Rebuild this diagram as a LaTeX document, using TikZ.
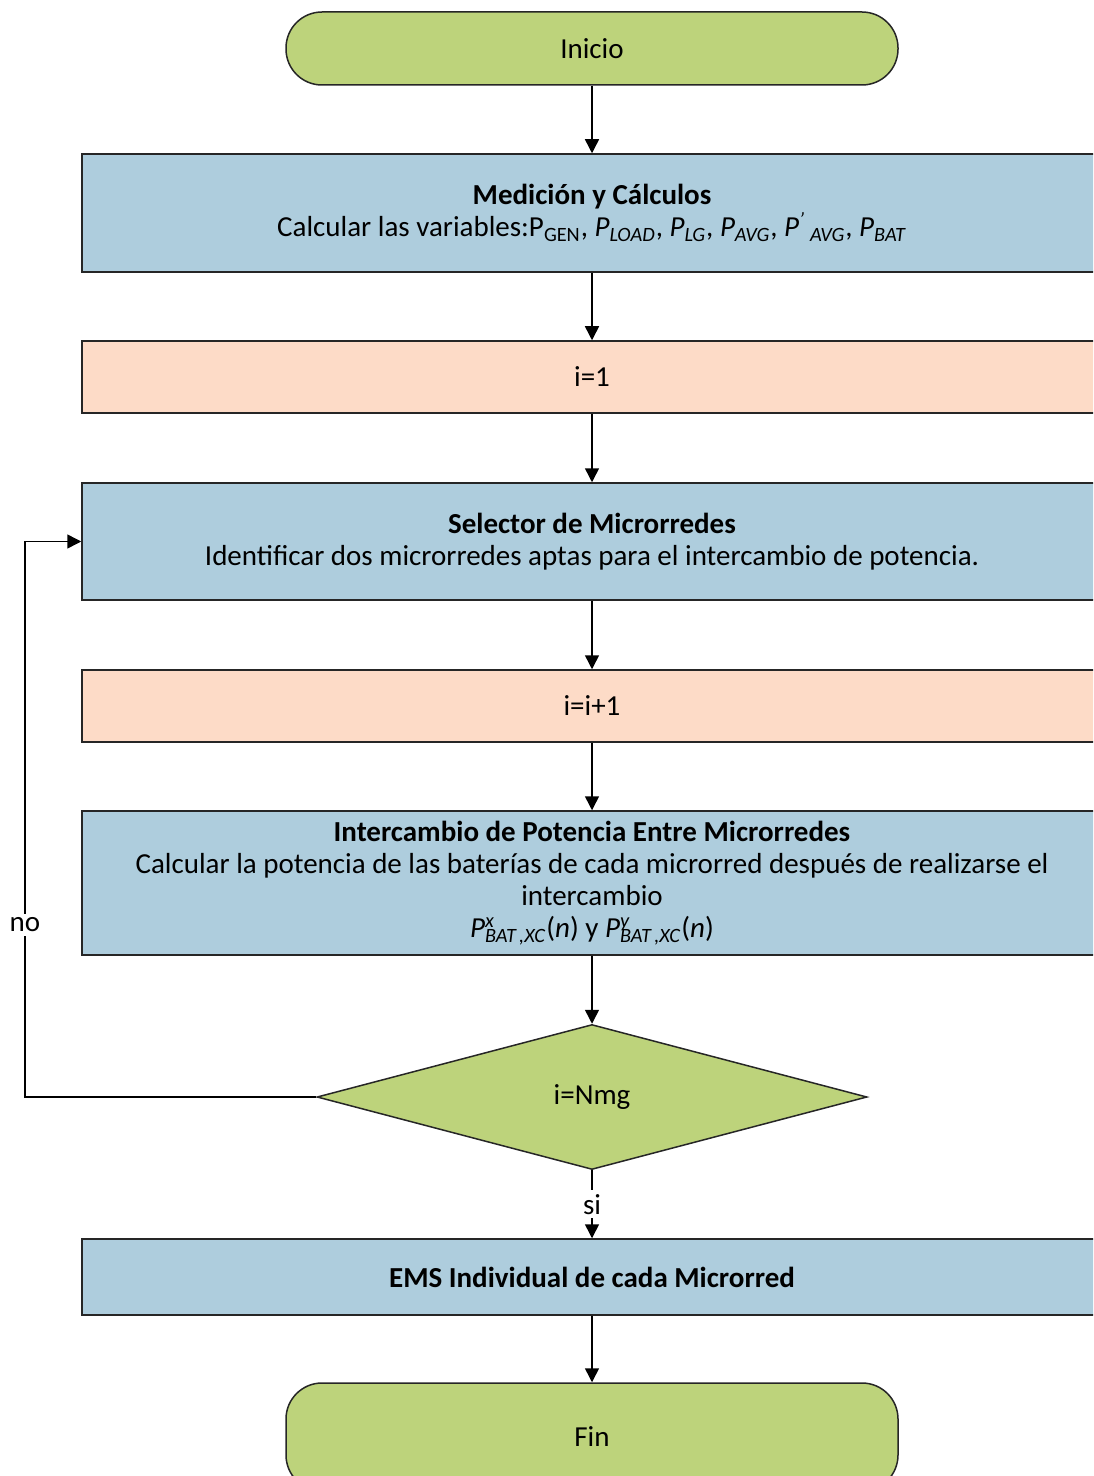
\documentclass[tikz,border=0pt]{standalone}
\usepackage{fontspec}
\setmainfont{Carlito}
\usetikzlibrary{shapes.geometric,arrows.meta}

\definecolor{verde}{RGB}{189,211,123}
\definecolor{azul}{RGB}{174,205,221}
\definecolor{salmon}{RGB}{253,219,199}

\newcommand{\Pv}[1]{\textit{P}\textsubscript{\textit{#1}}}
\newcommand{\Pxc}[1]{\textit{P}\rlap{\textsuperscript{\textit{#1}}}\textsubscript{\textit{BAT\,,XC}}(\textit{n})}

\tikzset{
  base/.style={draw=black!85, line width=0.75pt, font=\fontsize{14.5pt}{16pt}\selectfont, align=center},
  terminal/.style={base, fill=verde, rectangle, rounded corners=18pt, minimum width=306pt},
  proceso/.style={base, fill=azul, rectangle, minimum width=510pt},
  contador/.style={base, fill=salmon, rectangle, minimum width=510pt, minimum height=36pt},
  decision/.style={base, fill=verde, diamond, minimum width=275pt, minimum height=72.5pt, inner sep=1pt},
  flow/.style={-{Triangle[length=7pt,width=7pt]}, line width=0.75pt},
  etiq/.style={fill=white, font=\fontsize{14.5pt}{16pt}\selectfont, inner sep=2pt}
}

\begin{document}
\begin{tikzpicture}
  \clip (0,0) rectangle (546.5pt,-738pt);

  \node[terminal, minimum height=36.5pt] (inicio) at (296pt,-24.25pt) {Inicio};
  \node[proceso, minimum height=59pt] (medicion) [node distance=82.25pt, below of=inicio]
    {\textbf{Medición y Cálculos}\\
     Calcular las variables:P\textsubscript{GEN}, \Pv{LOAD}, \Pv{LG}, \Pv{AVG}, \textit{P\textsuperscript{'}\,\textsubscript{AVG}}, \Pv{BAT}};
  \node[contador] (iuno) [node distance=82pt, below of=medicion] {i=1};
  \node[proceso, minimum height=58.5pt] (selector) [node distance=82.25pt, below of=iuno]
    {\textbf{Selector de Microrredes}\\
     Identificar dos microrredes aptas para el intercambio de potencia.};
  \node[contador] (imas) [node distance=82.25pt, below of=selector] {i=i+1};
  \node[proceso, minimum height=72pt] (intercambio) [node distance=88.5pt, below of=imas]
    {\textbf{Intercambio de Potencia Entre Microrredes}\\
     Calcular la potencia de las baterías de cada microrred después de realizarse el\\
     intercambio\\
     \Pxc{x} y \Pxc{y}};
  \node[decision] (nmg) [node distance=107pt, below of=intercambio] {i=Nmg};
  \node[proceso, minimum height=38pt] (ems) [node distance=90pt, below of=nmg]
    {\textbf{EMS Individual de cada Microrred}};
  \node[terminal, minimum height=54pt] (fin) [node distance=80pt, below of=ems] {Fin};

  \coordinate (retorno) at (12.5pt,0);

  \draw[flow] (inicio) -- (medicion);
  \draw[flow] (medicion) -- (iuno);
  \draw[flow] (iuno) -- (selector);
  \draw[flow] (selector) -- (imas);
  \draw[flow] (imas) -- (intercambio);
  \draw[flow] (intercambio) -- (nmg);
  \draw[flow] (nmg) -- node[etiq] {si} (ems);
  \draw[flow] (ems) -- (fin);
  \draw[flow] (nmg.west) -- (nmg.west -| retorno) -- node[etiq, pos=0.31] {no} (selector.west -| retorno) -- (selector.west);
\end{tikzpicture}
\end{document}
